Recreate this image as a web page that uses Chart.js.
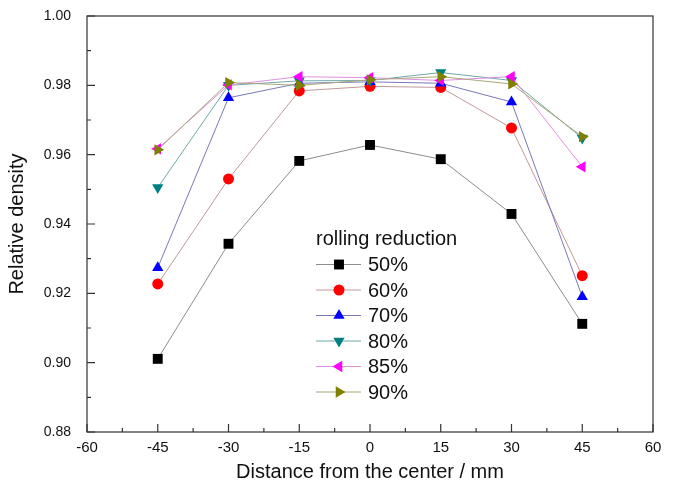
<!DOCTYPE html>
<html>
<head>
<meta charset="utf-8">
<script src="https://cdn.jsdelivr.net/npm/chart.js@4.4.1/dist/chart.umd.min.js"></script>
<style>
  html, body { margin: 0; padding: 0; background: #fff; }
  #wrap { width: 678px; height: 486px; }
</style>
</head>
<body>
<div id="wrap"><canvas id="densityChart" width="678" height="486"></canvas></div>
<script>
const distances = [-45, -30, -15, 0, 15, 30, 45];
const xTicks = [-60, -45, -30, -15, 0, 15, 30, 45, 60];
const yTicks = [0.88, 0.90, 0.92, 0.94, 0.96, 0.98, 1.00];

const seriesNames = ['50%', '60%', '70%', '80%', '85%', '90%'];
const r50 = [0.9011, 0.9343, 0.9582, 0.9628, 0.9587, 0.9429, 0.9112];
const r60 = [0.9227, 0.9530, 0.9784, 0.9797, 0.9794, 0.9677, 0.9251];
const r70 = [0.9274, 0.9764, 0.9806, 0.9810, 0.9806, 0.9752, 0.9190];
const r80 = [0.9505, 0.9800, 0.9813, 0.9814, 0.9837, 0.9814, 0.9648];
const r85 = [0.9617, 0.9801, 0.9825, 0.9822, 0.9814, 0.9825, 0.9565];
const r90 = [0.9614, 0.9808, 0.9800, 0.9816, 0.9825, 0.9804, 0.9652];
const allSeries = [r50, r60, r70, r80, r85, r90];

const markerColors = ['#000000', '#ff0000', '#0000ff', '#008080', '#ff00ff', '#808000'];
const lineColors = ['#8c8c8c', '#c09898', '#7878b8', '#70a8a8', '#e090e0', '#a8a878'];
const markerStyles = ['rect', 'circle', 'triangle', 'triangle', 'triangle', 'triangle'];
const markerRotation = [0, 0, 0, 180, -90, 90];
const markerRadius = [7, 5.5, 6.5, 6.5, 6.5, 6.5];

const FONT = "'Liberation Sans', Arial, Helvetica, sans-serif";

const datasets = allSeries.map((vals, i) => ({
    label: seriesNames[i],
    data: vals.map((v, j) => ({ x: distances[j], y: v })),
    borderColor: lineColors[i],
    borderWidth: 1,
    backgroundColor: markerColors[i],
    pointBackgroundColor: markerColors[i],
    pointBorderColor: markerColors[i],
    pointBorderWidth: 0,
    pointStyle: markerStyles[i],
    pointRotation: markerRotation[i],
    pointRadius: markerRadius[i],
    pointHoverRadius: markerRadius[i],
    tension: 0,
    fill: false,
    order: allSeries.length - 1 - i
}));

function drawMarker(ctx, style, x, y, r, rot) {
    if (Chart.helpers && Chart.helpers.drawPoint) {
        Chart.helpers.drawPoint(ctx, { pointStyle: style, radius: r, rotation: rot, borderWidth: 0 }, x, y);
        return;
    }
    ctx.beginPath();
    ctx.arc(x, y, r, 0, Math.PI * 2);
    ctx.fill();
}

// inward ticks, frame and the in-plot legend
const frameAndLegend = {
    id: 'frameAndLegend',
    afterDraw(chart) {
        const ctx = chart.ctx;
        const xs = chart.scales.x;
        const ys = chart.scales.y;
        const a = chart.chartArea;
        ctx.save();
        ctx.strokeStyle = '#333333';
        ctx.lineWidth = 1.2;
        ctx.strokeRect(a.left, a.top, a.right - a.left, a.bottom - a.top);

        ctx.beginPath();
        xTicks.forEach((t, i) => {
            const px = xs.getPixelForValue(t);
            ctx.moveTo(px, a.bottom);
            ctx.lineTo(px, a.bottom - 8);
            if (i < xTicks.length - 1) {
                const mx = xs.getPixelForValue(t + 7.5);
                ctx.moveTo(mx, a.bottom);
                ctx.lineTo(mx, a.bottom - 4);
            }
        });
        yTicks.forEach((t, i) => {
            const py = ys.getPixelForValue(t);
            ctx.moveTo(a.left, py);
            ctx.lineTo(a.left + 8, py);
            if (i < yTicks.length - 1) {
                const my = ys.getPixelForValue(t + 0.01);
                ctx.moveTo(a.left, my);
                ctx.lineTo(a.left + 4, my);
            }
        });
        ctx.stroke();

        // legend
        const lx = 316, ly = 239, step = 25.5;
        ctx.fillStyle = '#111';
        ctx.font = '20px ' + FONT;
        ctx.textBaseline = 'middle';
        ctx.textAlign = 'left';
        ctx.fillText('rolling reduction', lx, ly);
        datasets.forEach((ds, i) => {
            const y = ly + step * (i + 1);
            ctx.strokeStyle = lineColors[i];
            ctx.lineWidth = 1;
            ctx.beginPath();
            ctx.moveTo(lx, y);
            ctx.lineTo(lx + 45, y);
            ctx.stroke();
            ctx.fillStyle = markerColors[i];
            drawMarker(ctx, markerStyles[i], lx + 23, y, markerRadius[i], markerRotation[i]);
            ctx.fillStyle = '#111';
            ctx.fillText(ds.label, lx + 52, y + 1);
        });
        ctx.restore();
    }
};

const config = {
    type: 'line',
    data: { datasets: datasets },
    options: {
        responsive: false,
        animation: false,
        layout: { padding: { top: 16, right: 25, left: 0, bottom: 0 } },
        plugins: {
            legend: { display: false },
            tooltip: { enabled: false },
            title: { display: false }
        },
        scales: {
            x: {
                type: 'linear',
                min: -60,
                max: 60,
                afterBuildTicks: (scale) => { scale.ticks = xTicks.map(v => ({ value: v })); },
                afterFit: (scale) => { scale.height = 54; },
                grid: { display: false, drawTicks: false },
                border: { display: false },
                ticks: {
                    padding: 7,
                    color: '#111',
                    font: { family: FONT, size: 15 },
                    maxRotation: 0,
                    autoSkip: false
                },
                title: {
                    display: true,
                    text: 'Distance from the center / mm',
                    color: '#111',
                    font: { family: FONT, size: 20 },
                    padding: { top: 0, bottom: 2 }
                }
            },
            y: {
                type: 'linear',
                min: 0.88,
                max: 1.00,
                afterBuildTicks: (scale) => { scale.ticks = yTicks.map(v => ({ value: v })); },
                afterFit: (scale) => {
                    scale.width = 87;
                    scale.paddingTop = 0;
                    scale.paddingBottom = 0;
                },
                grid: { display: false, drawTicks: false },
                border: { display: false },
                ticks: {
                    padding: 16,
                    color: '#111',
                    font: { family: FONT, size: 14 },
                    callback: (v) => Number(v).toFixed(2)
                },
                title: {
                    display: true,
                    text: 'Relative density',
                    color: '#111',
                    font: { family: FONT, size: 20 },
                    padding: { top: 5, bottom: 0 }
                }
            }
        }
    },
    plugins: [frameAndLegend]
};

const ctx = document.getElementById('densityChart').getContext('2d');
const densityChart = new Chart(ctx, config);
</script>
</body>
</html>
